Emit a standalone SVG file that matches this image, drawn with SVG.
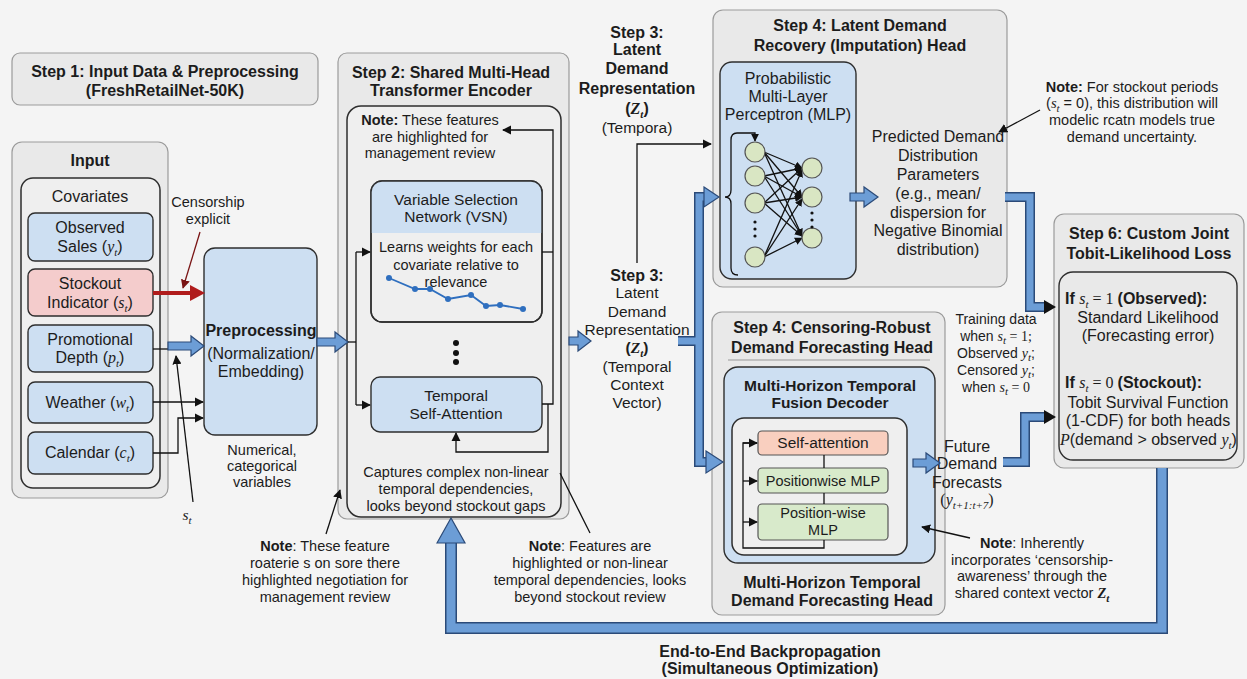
<svg xmlns="http://www.w3.org/2000/svg" width="1247" height="679" viewBox="0 0 1247 679">
<defs>
<style>
.t{font-family:"Liberation Sans",Arial,sans-serif;fill:#1c1c1c;text-anchor:middle;font-size:15.5px}
.s14{font-size:14.5px}
.s13{font-size:14px}
.s16{font-size:16px}
.b{font-weight:bold}
.l{text-anchor:start}
.m{font-family:"Liberation Serif","Times New Roman",serif;font-style:italic}
.r{font-family:"Liberation Serif","Times New Roman",serif}
.sub{font-size:11px}
.panel{fill:#e9e9e9;stroke:#9b9b9b;stroke-width:1.2}
.inner{fill:#efefef;stroke:#2e2e2e;stroke-width:1.5}
.bl{fill:#cddff2;stroke:#2e2e2e;stroke-width:1.4}
.pk{fill:#f4cccc;stroke:#2e2e2e;stroke-width:1.4}
.gr{fill:#d8eacb;stroke:#555;stroke-width:1.2}
.sa{fill:#f9cfbf;stroke:#555;stroke-width:1.2}
.ln{fill:none;stroke:#111;stroke-width:1.3}
.fat{fill:#6c9dd6;stroke:#2b4a78;stroke-width:1.2;stroke-linejoin:miter}
.bo{fill:none;stroke:#2b4a78;stroke-linejoin:miter}
.bi{fill:none;stroke:#6c9dd6;stroke-linejoin:miter}
.node{fill:#d9e6c3;stroke:#555;stroke-width:1.2}
</style>
<marker id="ah" viewBox="0 0 10 10" refX="9" refY="5" markerWidth="7" markerHeight="7" orient="auto"><path d="M0,0 L10,5 L0,10 z" fill="#111"/></marker>
<marker id="ahs" viewBox="0 0 10 10" refX="9" refY="5" markerWidth="6" markerHeight="6" orient="auto"><path d="M0,0 L10,5 L0,10 z" fill="#111"/></marker>
<marker id="ahr" viewBox="0 0 10 10" refX="9" refY="5" markerWidth="7" markerHeight="7" orient="auto"><path d="M0,0 L10,5 L0,10 z" fill="#7a1515"/></marker>
</defs>
<rect width="1247" height="679" fill="#f4f4f4"/>

<g id="step1-title">
<rect class="panel" x="12" y="53" width="306" height="52" rx="8"/>
<text class="t b s16" x="165" y="77">Step 1: Input Data &amp; Preprocessing</text>
<text class="t b s16" x="165" y="96">(FreshRetailNet-50K)</text>
</g>

<g id="input">
<rect class="panel" x="12" y="142" width="156" height="356" rx="10"/>
<text class="t b s16" x="90" y="166">Input</text>
<rect class="inner" x="21" y="178" width="139" height="310" rx="12"/>
<text class="t s16" x="90" y="202">Covariates</text>
</g>
<g id="observed-sales">
<rect class="bl" x="28" y="213" width="125" height="48" rx="7"/>
<text class="t s16" x="90" y="233">Observed</text>
<text class="t s16" x="90" y="252">Sales (<tspan class="m">y</tspan><tspan class="m sub" dy="4">t</tspan><tspan dy="-4">)</tspan></text>
</g>
<g id="stockout-indicator">
<rect class="pk" x="28" y="269" width="125" height="47" rx="7"/>
<text class="t s16" x="90" y="289">Stockout</text>
<text class="t s16" x="90" y="308">Indicator (<tspan class="m">s</tspan><tspan class="m sub" dy="4">t</tspan><tspan dy="-4">)</tspan></text>
</g>
<g id="promotional-depth">
<rect class="bl" x="28" y="325" width="125" height="47" rx="7"/>
<text class="t s16" x="90" y="345">Promotional</text>
<text class="t s16" x="90" y="363">Depth (<tspan class="m">p</tspan><tspan class="m sub" dy="4">t</tspan><tspan dy="-4">)</tspan></text>
</g>
<g id="weather">
<rect class="bl" x="28" y="382" width="125" height="41" rx="7"/>
<text class="t s16" x="90" y="408">Weather (<tspan class="m">w</tspan><tspan class="m sub" dy="4">t</tspan><tspan dy="-4">)</tspan></text>
</g>
<g id="calendar">
<rect class="bl" x="28" y="432" width="125" height="42" rx="7"/>
<text class="t s16" x="90" y="458">Calendar (<tspan class="m">c</tspan><tspan class="m sub" dy="4">t</tspan><tspan dy="-4">)</tspan></text>
</g>

<g id="preprocessing">
<rect class="bl" x="204" y="248" width="113" height="187" rx="11"/>
<text class="t b s16" x="261" y="336">Preprocessing</text>
<text class="t s16" x="261" y="359">(Normalization/</text>
<text class="t s16" x="261" y="377">Embedding)</text>
<text class="t s14" x="262" y="455">Numerical,</text>
<text class="t s14" x="262" y="471">categorical</text>
<text class="t s14" x="262" y="487">variables</text>
</g>

<g id="censorship-label">
<text class="t s14" x="208" y="207">Censorship</text>
<text class="t s14" x="208" y="224">explicit</text>
</g>
<g id="st-label">
<text class="t m" x="187" y="520" font-size="17">s<tspan class="sub" dy="4">t</tspan></text>
</g>

<g id="step2">
<rect class="panel" x="338" y="53" width="231" height="466" rx="9"/>
<text class="t b s16" x="451" y="78">Step 2: Shared Multi-Head</text>
<text class="t b s16" x="451" y="96">Transformer Encoder</text>
<rect class="inner" x="347" y="106" width="214" height="411" rx="14"/>
<text class="t s14" x="430" y="125"><tspan class="b">Note:</tspan> These features</text>
<text class="t s14" x="430" y="142">are highlighted for</text>
<text class="t s14" x="430" y="158">management review</text>
<text class="t s14" x="456" y="477">Captures complex non-linear</text>
<text class="t s14" x="456" y="494">temporal dependencies,</text>
<text class="t s14" x="456" y="511">looks beyond stockout gaps</text>
<circle cx="456" cy="343" r="3" fill="#111"/>
<circle cx="456" cy="353" r="3" fill="#111"/>
<circle cx="456" cy="362" r="3" fill="#111"/>
</g>
<g id="vsn">
<rect x="371" y="181" width="171" height="141" rx="11" fill="#efefef" stroke="#2e2e2e" stroke-width="1.4"/>
<path d="M371,233 V192 Q371,181 382,181 H531 Q542,181 542,192 V233 Z" fill="#cddff2"/>
<rect x="371" y="181" width="171" height="141" rx="11" fill="none" stroke="#2e2e2e" stroke-width="1.4"/>
<text class="t" x="456" y="205">Variable Selection</text>
<text class="t" x="456" y="222">Network (VSN)</text>
<text class="t s14" x="456" y="252">Learns weights for each</text>
<text class="t s14" x="456" y="270">covariate relative to</text>
<text class="t s14" x="456" y="287">relevance</text>
<polyline points="389,278 415,289 430,289 448,299 471,295 486,306 500,305 523,309" fill="none" stroke="#2f6fbf" stroke-width="1.8"/>
<g fill="#2f6fbf"><circle cx="389" cy="278" r="3"/><circle cx="415" cy="289" r="3"/><circle cx="430" cy="289" r="3"/><circle cx="448" cy="299" r="3"/><circle cx="471" cy="295" r="3"/><circle cx="486" cy="306" r="3"/><circle cx="500" cy="305" r="3"/><circle cx="523" cy="309" r="3"/></g>
</g>
<g id="temporal-self-attention">
<rect class="bl" x="371" y="377" width="171" height="55" rx="9"/>
<text class="t" x="456" y="401">Temporal</text>
<text class="t" x="456" y="419">Self-Attention</text>
</g>

<g id="step3-top">
<text class="t b s16" x="637" y="38">Step 3:</text>
<text class="t b s16" x="637" y="55">Latent</text>
<text class="t b s16" x="637" y="74">Demand</text>
<text class="t b s16" x="637" y="94">Representation</text>
<text class="t b s16" x="637" y="114">(<tspan class="m">Z</tspan><tspan class="m sub" dy="4">t</tspan><tspan dy="-4">)</tspan></text>
<text class="t" x="637" y="133">(Tempora)</text>
</g>
<g id="step3-bottom">
<text class="t b s16" x="637" y="281">Step 3:</text>
<text class="t" x="637" y="298">Latent</text>
<text class="t" x="637" y="317">Demand</text>
<text class="t" x="637" y="335">Representation</text>
<text class="t b" x="637" y="353">(<tspan class="m">Z</tspan><tspan class="m sub" dy="4">t</tspan><tspan dy="-4">)</tspan></text>
<text class="t" x="637" y="372">(Temporal</text>
<text class="t" x="637" y="390">Context</text>
<text class="t" x="637" y="408">Vector)</text>
</g>

<g id="step4-recovery">
<rect class="panel" x="713" y="10" width="294" height="277" rx="10"/>
<text class="t b s16" x="860" y="31">Step 4: Latent Demand</text>
<text class="t b s16" x="860" y="51">Recovery (Imputation) Head</text>
<text class="t s16" x="938" y="142">Predicted Demand</text>
<text class="t s16" x="938" y="161">Distribution</text>
<text class="t s16" x="938" y="180">Parameters</text>
<text class="t s16" x="938" y="199">(e.g., mean/</text>
<text class="t s16" x="938" y="218">dispersion for</text>
<text class="t s16" x="938" y="236">Negative Binomial</text>
<text class="t s16" x="938" y="255">distribution)</text>
</g>
<g id="mlp">
<rect class="bl" x="720" y="62" width="136" height="217" rx="12"/>
<text class="t s16" x="788" y="84">Probabilistic</text>
<text class="t s16" x="788" y="102">Multi-Layer</text>
<text class="t s16" x="788" y="120">Perceptron (MLP)</text>
<path class="ln" d="M737,133 Q731,133 731,140 V190 Q731,197 725,197 Q731,197 731,204 V268 Q731,275 738,275" stroke-width="1.1"/>
<path class="ln" d="M737,133 H755 V141" stroke-width="1.1" marker-end="url(#ahs)"/>
<g class="ln" stroke-width="1" marker-end="url(#ahs)">
<line x1="764" y1="152" x2="802" y2="168"/><line x1="764" y1="152" x2="802" y2="197"/><line x1="764" y1="152" x2="802" y2="236"/>
<line x1="764" y1="176" x2="802" y2="168"/><line x1="764" y1="176" x2="802" y2="197"/><line x1="764" y1="176" x2="802" y2="236"/>
<line x1="764" y1="203" x2="802" y2="168"/><line x1="764" y1="203" x2="802" y2="197"/><line x1="764" y1="203" x2="802" y2="236"/>
<line x1="764" y1="257" x2="802" y2="170"/><line x1="764" y1="257" x2="802" y2="199"/><line x1="764" y1="257" x2="802" y2="238"/>
</g>
<circle class="node" cx="755" cy="152" r="10"/>
<circle class="node" cx="755" cy="176" r="10"/>
<circle class="node" cx="755" cy="203" r="10"/>
<circle class="node" cx="755" cy="257" r="10"/>
<circle class="node" cx="812" cy="168" r="10"/>
<circle class="node" cx="812" cy="197" r="10"/>
<circle class="node" cx="812" cy="238" r="10"/>
<g fill="#111"><circle cx="755" cy="222" r="1.6"/><circle cx="755" cy="229" r="1.6"/><circle cx="755" cy="236" r="1.6"/><circle cx="812" cy="213" r="1.6"/><circle cx="812" cy="220" r="1.6"/><circle cx="812" cy="227" r="1.6"/></g>
</g>

<g id="top-note">
<text class="t s14" x="1132" y="92"><tspan class="b">Note:</tspan> For stockout periods</text>
<text class="t s14" x="1132" y="108">(<tspan class="m">s</tspan><tspan class="m sub" dy="4">t</tspan><tspan dy="-4"> = 0), this distribution will</tspan></text>
<text class="t s14" x="1132" y="125">modelic rcatn models true</text>
<text class="t s14" x="1132" y="142">demand uncertainty.</text>
</g>

<g id="step4-forecasting">
<rect class="panel" x="712" y="312" width="233" height="303" rx="10"/>
<text class="t b s16" x="832" y="333">Step 4: Censoring-Robust</text>
<text class="t b s16" x="832" y="353">Demand Forecasting Head</text>
<line x1="728" y1="360" x2="930" y2="360" stroke="#999" stroke-width="1"/>
<text class="t b s16" x="832" y="588">Multi-Horizon Temporal</text>
<text class="t b s16" x="832" y="606">Demand Forecasting Head</text>
</g>
<g id="decoder">
<rect class="bl" x="724" y="367" width="211" height="196" rx="14"/>
<text class="t b" x="830" y="391">Multi-Horizon Temporal</text>
<text class="t b" x="830" y="408">Fusion Decoder</text>
<rect class="inner" x="732" y="418" width="175" height="137" rx="12"/>
</g>
<g id="self-attention">
<rect class="sa" x="758" y="431" width="130" height="24" rx="4"/>
<text class="t" x="823" y="448">Self-attention</text>
</g>
<g id="positionwise-mlp">
<rect class="gr" x="758" y="468" width="130" height="25" rx="4"/>
<text class="t s14" x="823" y="486">Positionwise MLP</text>
</g>
<g id="position-wise-mlp">
<rect class="gr" x="758" y="504" width="130" height="36" rx="4"/>
<text class="t s14" x="823" y="518">Position-wise</text>
<text class="t s14" x="823" y="535">MLP</text>
</g>

<g id="future-demand">
<text class="t s16" x="967" y="452">Future</text>
<text class="t s16" x="967" y="469">Demand</text>
<text class="t s16" x="967" y="488">Forecasts</text>
<text class="t s16" x="967" y="505"><tspan class="r">(</tspan><tspan class="m">y</tspan><tspan class="m sub" dy="4">t+1:t+7</tspan><tspan class="r" dy="-4">)</tspan></text>
</g>
<g id="training-data">
<text class="t s13" x="996" y="324">Training data</text>
<text class="t s13" x="996" y="341">when <tspan class="m">s</tspan><tspan class="m sub" dy="3">t</tspan><tspan class="r" dy="-3"> = 1;</tspan></text>
<text class="t s13" x="996" y="358">Observed <tspan class="m">y</tspan><tspan class="m sub" dy="3">t</tspan><tspan dy="-3">;</tspan></text>
<text class="t s13" x="996" y="375">Censored <tspan class="m">y</tspan><tspan class="m sub" dy="3">t</tspan><tspan dy="-3">;</tspan></text>
<text class="t s13" x="996" y="392">when <tspan class="m">s</tspan><tspan class="m sub" dy="3">t</tspan><tspan class="r" dy="-3"> = 0</tspan></text>
</g>

<g id="step6">
<rect class="panel" x="1054" y="214" width="190" height="254" rx="10"/>
<text class="t b s16" x="1149" y="239">Step 6: Custom Joint</text>
<text class="t b s16" x="1149" y="259">Tobit-Likelihood Loss</text>
<rect x="1059" y="272" width="178" height="188" rx="14" fill="#e9e9e9" stroke="#2e2e2e" stroke-width="1.4"/>
<text class="t l b s16" x="1065" y="304">If <tspan class="m" font-weight="normal">s</tspan><tspan class="m sub" font-weight="normal" dy="4">t</tspan><tspan class="r" font-weight="normal" dy="-4"> = 1 </tspan>(Observed):</text>
<text class="t s16" x="1148" y="323">Standard Likelihood</text>
<text class="t s16" x="1148" y="341">(Forecasting error)</text>
<text class="t l b s16" x="1065" y="388">If <tspan class="m" font-weight="normal">s</tspan><tspan class="m sub" font-weight="normal" dy="4">t</tspan><tspan class="r" font-weight="normal" dy="-4"> = 0 </tspan>(Stockout):</text>
<text class="t s16" x="1148" y="408">Tobit Survival Function</text>
<text class="t s16" x="1148" y="426">(1-CDF) for both heads</text>
<text class="t l s16" x="1060" y="445"><tspan class="m">P</tspan>(demand &gt; observed <tspan class="m">y</tspan><tspan class="m sub" dy="4">t</tspan><tspan dy="-4">)</tspan></text>
</g>

<g id="bottom-notes">
<text class="t s14" x="325" y="551"><tspan class="b">Note</tspan>: These feature</text>
<text class="t s14" x="325" y="568">roaterie s on sore there</text>
<text class="t s14" x="325" y="585">highlighted negotiation for</text>
<text class="t s14" x="325" y="602">management review</text>
<text class="t s14" x="590" y="551"><tspan class="b">Note</tspan>: Features are</text>
<text class="t s14" x="590" y="568">highlighted or non-linear</text>
<text class="t s14" x="590" y="585">temporal dependencies, looks</text>
<text class="t s14" x="590" y="602">beyond stockout review</text>
<text class="t s14" x="1032" y="548"><tspan class="b">Note</tspan>: Inherently</text>
<text class="t s14" x="1032" y="565">incorporates ‘censorship-</text>
<text class="t s14" x="1032" y="581">awareness’ through the</text>
<text class="t s14" x="1032" y="598">shared context vector <tspan class="m b">Z</tspan><tspan class="m b sub" dy="4">t</tspan></text>
</g>
<g id="backprop-label">
<text class="t b s16" x="770" y="657">End-to-End Backpropagation</text>
<text class="t b s16" x="770" y="674">(Simultaneous Optimization)</text>
</g>

<g id="connectors">
<line x1="153" y1="349" x2="170" y2="349" class="ln"/>
<path class="ln" d="M153,402 H203" marker-end="url(#ah)"/>
<path class="ln" d="M153,453 H178 V418 H203" marker-end="url(#ah)"/>
<path class="ln" d="M193,502 L176,356" marker-end="url(#ah)"/>
<path d="M200,232 L183,288" fill="none" stroke="#7a1515" stroke-width="1.3" marker-end="url(#ahr)"/>
<line x1="153" y1="293" x2="192" y2="293" stroke="#b01c1c" stroke-width="4"/>
<polygon points="190,285 205,293 190,301" fill="#b01c1c"/>
<polygon class="fat" points="168,342 191,342 191,336 204,346 191,356 191,350 168,350"/>
<polygon class="fat" points="317,338 335,338 335,332 348,342 335,352 335,346 317,346"/>
<path class="ln" d="M348,342 H356"/>
<path class="ln" d="M356,252 V405"/>
<path class="ln" d="M356,252 H370" marker-end="url(#ah)"/>
<path class="ln" d="M356,405 H370" marker-end="url(#ah)"/>
<path class="ln" d="M542,252 H553"/>
<path class="ln" d="M542,404 H553 V130 H503" marker-end="url(#ah)"/>
<path class="ln" d="M548,404 V452 H456 V433" marker-end="url(#ah)"/>
<path class="ln" d="M326,534 L340,490" marker-end="url(#ah)"/>
<path class="ln" d="M560,473 L590,533"/>
<polygon class="fat" points="569,337 578,337 578,331 591,341 578,351 578,345 569,345"/>
<path class="ln" d="M637,263 V144 H711" marker-end="url(#ah)"/>
<path class="bo" stroke-width="10" d="M678,341 H699 V197 H706 M699,341 V462 H707"/>
<path class="bi" stroke-width="7" d="M678,341 H699 V197 H706 M699,341 V462 H707"/>
<polygon class="fat" points="704,187 719,197 704,207"/>
<polygon class="fat" points="706,451 723,462 706,473"/>
<polygon class="fat" points="850,193 864,193 864,187 878,197 864,207 864,201 850,201"/>
<path class="ln" d="M1040,110 L999,132" marker-end="url(#ah)"/>
<path class="ln" d="M824,455 V468 M824,493 V504 M824,540 V548 H743 V443 H757" />
<path class="ln" d="M743,443 H757" marker-end="url(#ah)"/>
<path class="ln" d="M743,481 H757" marker-end="url(#ah)"/>
<path class="ln" d="M743,522 H757" marker-end="url(#ah)"/>
<polygon class="fat" points="913,459 926,459 926,453 940,463 926,473 926,467 913,467"/>
<path class="ln" d="M970,538 L922,527" marker-end="url(#ah)"/>
<path class="bo" stroke-width="10" d="M1005,197 H1030 V307 H1045 M1003,462 H1025 V417 H1045"/>
<path class="bi" stroke-width="7" d="M1005,197 H1030 V307 H1045 M1003,462 H1025 V417 H1045"/>
<polygon points="1044,300 1056,307 1044,314" fill="#111"/>
<polygon points="1044,410 1056,417 1044,424" fill="#111"/>
<path class="bo" stroke-width="12" d="M1162,468 V628 H451 V542"/>
<path class="bi" stroke-width="9" d="M1162,468 V628 H451 V542"/>
<polygon class="fat" points="437,543 451,518 465,543"/>
</g>
</svg>
